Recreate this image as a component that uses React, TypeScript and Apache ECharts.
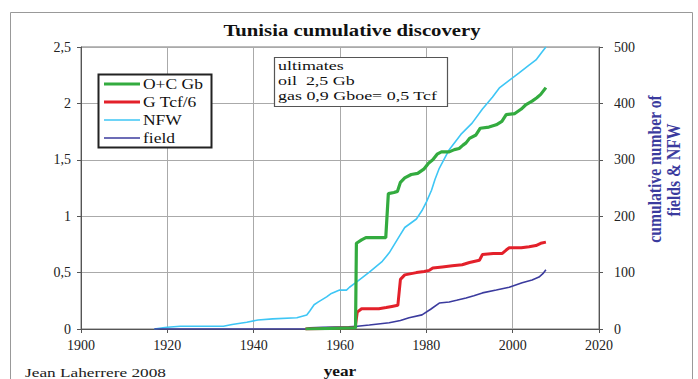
import React, { useEffect, useRef } from "react";
import * as echarts from "echarts";

const ocYears = [1952, 1963.6, 1963.8, 1965, 1966, 1970.6, 1971.2, 1972.5, 1973.3, 1974, 1975, 1976.5, 1978, 1979.5, 1980.5, 1981.5, 1982.5, 1983.5, 1985.3, 1986.5, 1987.6, 1988.5, 1989.2, 1990, 1991.5, 1992.5, 1994.5, 1996.2, 1997.5, 1998.5, 2000.5, 2002, 2003.1, 2004.5, 2005.6, 2006.5, 2007.7];
const ocValues = [0, 0.01, 0.76, 0.79, 0.81, 0.81, 1.2, 1.21, 1.22, 1.3, 1.34, 1.37, 1.38, 1.42, 1.47, 1.5, 1.55, 1.57, 1.57, 1.59, 1.6, 1.63, 1.65, 1.69, 1.72, 1.78, 1.79, 1.81, 1.84, 1.9, 1.91, 1.95, 1.99, 2.02, 2.05, 2.08, 2.14];

const gasYears = [1952, 1963.5, 1964, 1965, 1969, 1970.7, 1972, 1973.4, 1974, 1975, 1977.7, 1979.5, 1980.7, 1981.5, 1983.7, 1986, 1988.3, 1990, 1992.3, 1993, 1995.5, 1997.6, 1998.5, 1999.2, 2002, 2003.8, 2005.4, 2006.5, 2007.7];
const gasValues = [0, 0.01, 0.15, 0.18, 0.18, 0.19, 0.2, 0.21, 0.44, 0.48, 0.5, 0.51, 0.52, 0.54, 0.55, 0.56, 0.57, 0.59, 0.61, 0.66, 0.67, 0.67, 0.7, 0.72, 0.72, 0.73, 0.74, 0.76, 0.77];

const nfwYears = [1917, 1919, 1920, 1923, 1933, 1935, 1938.4, 1941, 1944.4, 1950, 1952.3, 1953, 1954, 1955, 1956.9, 1958, 1959.9, 1961.5, 1962.2, 1963.8, 1966.8, 1969.8, 1971.4, 1973.8, 1975, 1977.7, 1979, 1980, 1981.2, 1982, 1983, 1985.3, 1988, 1990.6, 1993, 1995.3, 1997, 1999.2, 2001.5, 2003.8, 2005.4, 2006.8, 2007.7];
const nfwValues = [0, 2, 3, 5, 5, 8, 12, 16, 18, 20, 25, 32, 43, 48, 57, 63, 69, 69, 74, 83, 101, 120, 135, 165, 180, 195, 210, 225, 246, 265, 285, 318, 345, 365, 390, 411, 428, 441, 454, 468, 477, 491, 500];

const fieldYears = [1917, 1952, 1953, 1956, 1962, 1964, 1966.8, 1971.4, 1974, 1976, 1979, 1981, 1983, 1985.3, 1987, 1989.2, 1991, 1993, 1996.2, 1999.2, 2002.2, 2004.5, 2006.1, 2007, 2007.7];
const fieldValues = [0, 0, 2, 3, 4, 5, 7, 11, 15, 20, 25, 35, 46, 48, 51, 55, 59, 64, 69, 74, 82, 87, 92, 98, 105];

const legendNames = ["O+C Gb", "G Tcf/6", "NFW", "field"];
const legendColors = ["#33ab3f", "#e3202a", "#3ec6f5", "#3b3b9e"];
const legendWidths = [3.2, 3, 1.6, 1.6];
const noteLines = ["ultimates", "oil  2,5 Gb", "gas 0,9 Gboe= 0,5 Tcf"];

const zip = (xs: number[], ys: number[]) => xs.map((x, i) => [x, ys[i]]);

const SERIF = "'Liberation Serif', 'DejaVu Serif', serif";

export default function App() {
  const ref = useRef<HTMLDivElement>(null);
  useEffect(() => {
    if (!ref.current) return;
    const chart = echarts.init(ref.current, undefined, { renderer: "svg" });

    const legendGraphics: any[] = [
      {
        type: "rect",
        shape: { x: 98.5, y: 74.5, width: 113, height: 73 },
        style: { fill: "#fff", stroke: "#222", lineWidth: 2 },
        z: 10,
      },
    ];
    legendNames.forEach((name, i) => {
      const yy = 84 + i * 18;
      legendGraphics.push({
        type: "line",
        shape: { x1: 104, y1: yy, x2: 140, y2: yy },
        style: { stroke: legendColors[i], lineWidth: legendWidths[i] },
        z: 11,
      });
      legendGraphics.push({
        type: "text",
        x: 143,
        y: yy,
        scaleX: 1.25,
        z: 11,
        style: {
          text: name,
          font: "14px " + SERIF,
          fill: "#111",
          verticalAlign: "middle",
        },
      });
    });

    chart.setOption({
      animation: false,
      backgroundColor: "#ffffff",
      textStyle: { fontFamily: SERIF },
      grid: {
        left: 81,
        right: 99,
        top: 47,
        bottom: 50,
        show: true,
        borderColor: "#777",
        borderWidth: 1,
      },
      xAxis: {
        type: "value",
        min: 1900,
        max: 2020,
        interval: 20,
        axisLine: { show: true, lineStyle: { color: "#555" } },
        axisTick: { show: true, length: 4, lineStyle: { color: "#555" } },
        axisLabel: {
          color: "#222",
          fontSize: 14,
          fontFamily: SERIF,
          margin: 9,
          formatter: (v: number) => String(v),
        },
        splitLine: { show: true, lineStyle: { color: "#aaa" } },
      },
      yAxis: [
        {
          type: "value",
          min: 0,
          max: 2.5,
          interval: 0.5,
          axisLine: { show: true, lineStyle: { color: "#555" } },
          axisTick: { show: true, length: 4, lineStyle: { color: "#555" } },
          axisLabel: {
            color: "#222",
            fontSize: 14,
            fontFamily: SERIF,
            margin: 10,
            formatter: (v: number) => String(v).replace(".", ","),
          },
          splitLine: { show: true, lineStyle: { color: "#aaa" } },
        },
        {
          type: "value",
          min: 0,
          max: 500,
          interval: 100,
          position: "right",
          axisLine: { show: true, lineStyle: { color: "#555" } },
          axisTick: { show: true, length: 4, lineStyle: { color: "#555" } },
          axisLabel: { color: "#222", fontSize: 14, fontFamily: SERIF, margin: 15 },
          splitLine: { show: false },
        },
      ],
      series: [
        {
          name: "NFW",
          type: "line",
          yAxisIndex: 1,
          symbol: "none",
          z: 2,
          lineStyle: { color: legendColors[2], width: legendWidths[2] },
          itemStyle: { color: legendColors[2] },
          data: zip(nfwYears, nfwValues),
        },
        {
          name: "field",
          type: "line",
          yAxisIndex: 1,
          symbol: "none",
          z: 3,
          lineStyle: { color: legendColors[3], width: legendWidths[3] },
          itemStyle: { color: legendColors[3] },
          data: zip(fieldYears, fieldValues),
        },
        {
          name: "G Tcf/6",
          type: "line",
          yAxisIndex: 0,
          symbol: "none",
          z: 4,
          lineStyle: { color: legendColors[1], width: legendWidths[1] },
          itemStyle: { color: legendColors[1] },
          data: zip(gasYears, gasValues),
        },
        {
          name: "O+C Gb",
          type: "line",
          yAxisIndex: 0,
          symbol: "none",
          z: 5,
          lineStyle: { color: legendColors[0], width: legendWidths[0] },
          itemStyle: { color: legendColors[0] },
          data: zip(ocYears, ocValues),
        },
      ],
      graphic: [
        {
          type: "rect",
          shape: { x: 10.5, y: 12.5, width: 682, height: 400 },
          style: { fill: "none", stroke: "#999", lineWidth: 1 },
          silent: true,
          z: -10,
        },
        {
          type: "text",
          x: 352,
          y: 30,
          scaleX: 1.22,
          style: {
            text: "Tunisia cumulative discovery",
            font: "bold 17px " + SERIF,
            fill: "#111",
            align: "center",
            verticalAlign: "middle",
          },
        },
        {
          type: "rect",
          shape: { x: 274.5, y: 57.5, width: 173, height: 49 },
          style: { fill: "#fff", stroke: "#555", lineWidth: 1.2 },
          z: 10,
        },
        ...noteLines.map((t, i) => ({
          type: "text",
          x: 278,
          y: 65 + i * 15,
          scaleX: 1.38,
          z: 11,
          style: {
            text: t,
            font: "13px " + SERIF,
            fill: "#111",
            verticalAlign: "middle",
          },
        })),
        ...legendGraphics,
        {
          type: "text",
          x: 655,
          y: 169,
          rotation: Math.PI / 2,
          scaleX: 0.87,
          style: {
            text: "cumulative number of",
            font: "bold 18px " + SERIF,
            fill: "#3b3b9e",
            align: "center",
            verticalAlign: "middle",
          },
        },
        {
          type: "text",
          x: 674,
          y: 170,
          rotation: Math.PI / 2,
          scaleX: 0.87,
          style: {
            text: "fields & NFW",
            font: "bold 18px " + SERIF,
            fill: "#3b3b9e",
            align: "center",
            verticalAlign: "middle",
          },
        },
        {
          type: "text",
          x: 340,
          y: 371,
          scaleX: 1.15,
          style: {
            text: "year",
            font: "bold 15px " + SERIF,
            fill: "#111",
            align: "center",
            verticalAlign: "middle",
          },
        },
        {
          type: "text",
          x: 25,
          y: 372,
          scaleX: 1.33,
          style: {
            text: "Jean Laherrere 2008",
            font: "13px " + SERIF,
            fill: "#222",
            verticalAlign: "middle",
          },
        },
      ],
    });
    return () => chart.dispose();
  }, []);
  return (
    <div
      ref={ref}
      style={{ position: "fixed", left: 0, top: 0, width: 698, height: 379 }}
    />
  );
}
